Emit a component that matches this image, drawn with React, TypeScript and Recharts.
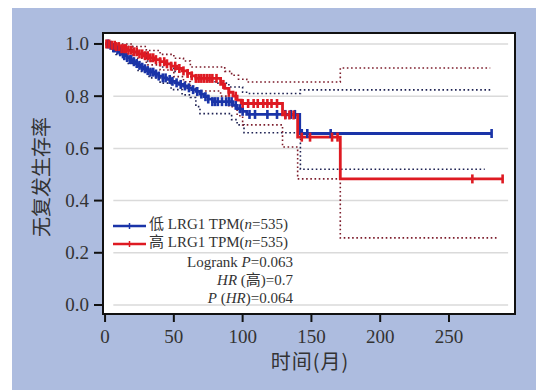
import {
  ComposedChart,
  Line,
  ReferenceArea,
  ReferenceLine,
  Scatter,
  XAxis,
  YAxis,
} from "recharts";

// 低表达组 (low LRG1)
const LOW_T = [0, 3, 5, 8, 10, 12, 14, 16, 18, 20, 22, 24, 26, 28, 30, 33, 36, 39, 42, 45, 48, 51, 54, 57, 60, 63, 66, 69, 72, 75, 78, 93, 96, 100, 103, 141.5, 281];
const LOW_S = [1.0, 0.995, 0.985, 0.977, 0.97, 0.962, 0.955, 0.948, 0.94, 0.932, 0.925, 0.918, 0.911, 0.905, 0.898, 0.892, 0.885, 0.877, 0.87, 0.864, 0.857, 0.851, 0.845, 0.839, 0.832, 0.825, 0.818, 0.808, 0.798, 0.789, 0.779, 0.765, 0.752, 0.742, 0.73, 0.657, 0.657];
const LOW_CENSOR = [2, 4, 6, 7, 9, 11, 13, 14, 16, 18, 19, 21, 23, 25, 27, 29, 31, 33, 35, 37, 39, 42, 44, 47, 49, 52, 55, 58, 61, 64, 67, 70, 73, 75, 78, 80, 82, 85, 88, 90, 92, 95, 98, 100, 105, 109, 118, 125, 131, 135, 138, 143, 147, 164, 281];
const LOW_UP_T = [0, 10, 20, 30, 40, 50, 60, 70, 80, 90, 100, 105, 142, 281];
const LOW_UP_S = [1.0, 0.99, 0.965, 0.935, 0.912, 0.895, 0.875, 0.86, 0.85, 0.835, 0.815, 0.81, 0.824, 0.824];
const LOW_LO_T = [0, 8, 16, 24, 32, 40, 48, 56, 62, 66, 69, 92, 96, 101, 142, 276];
const LOW_LO_S = [1.0, 0.96, 0.925, 0.895, 0.87, 0.85, 0.825, 0.805, 0.795, 0.76, 0.733, 0.71, 0.69, 0.66, 0.52, 0.52];

// 高表达组 (high LRG1)
const HIGH_T = [0, 4, 8, 12, 16, 20, 24, 28, 32, 36, 40, 44, 48, 52, 56, 60, 63, 66, 84, 87, 90, 93, 96, 99, 129, 140, 171, 289];
const HIGH_S = [1.0, 0.995, 0.99, 0.982, 0.976, 0.97, 0.962, 0.955, 0.947, 0.94, 0.932, 0.924, 0.915, 0.906, 0.897, 0.887, 0.878, 0.868, 0.845, 0.83, 0.815, 0.8, 0.785, 0.772, 0.728, 0.643, 0.483, 0.483];
const HIGH_CENSOR = [1, 3, 5, 7, 8, 10, 12, 14, 15, 17, 19, 21, 23, 25, 27, 29, 31, 33, 35, 37, 40, 43, 45, 48, 51, 54, 57, 60, 63, 66, 68, 70, 72, 74, 76, 78, 81, 86, 90, 95, 100, 104, 108, 111, 115, 118, 121, 125, 131, 134, 137, 143, 149, 165, 169, 267, 289];
const HIGH_UP_T = [0, 10, 20, 30, 40, 50, 57, 62, 87, 92, 97, 103, 171, 280];
const HIGH_UP_S = [1.0, 1.0, 0.99, 0.975, 0.96, 0.945, 0.935, 0.912, 0.895, 0.88, 0.865, 0.854, 0.908, 0.908];
const HIGH_LO_T = [0, 10, 20, 30, 40, 50, 57, 62, 66, 84, 90, 96, 100, 129, 140, 171, 285];
const HIGH_LO_S = [1.0, 0.975, 0.945, 0.92, 0.9, 0.875, 0.855, 0.835, 0.82, 0.8, 0.76, 0.725, 0.69, 0.605, 0.483, 0.257, 0.257];

const X_TICKS = [0, 50, 100, 150, 200, 250];
const Y_TICKS = [0, 0.2, 0.4, 0.6, 0.8, 1.0];

const BLUE = "#1a34a8";
const RED = "#de1a22";
const BLUE_CI = "#1d2152";
const RED_CI = "#7c1c2b";

const SERIF = '"Liberation Serif", "Noto Sans CJK SC", serif';
const CJK = '"Noto Sans CJK SC", sans-serif';

const zip = (t: number[], s: number[]) => t.map((x, i) => ({ t: x, v: s[i] }));

// 删失点取所在阶梯的生存率
const stepAt = (t: number[], s: number[], x: number) => {
  let v = s[0];
  for (let i = 0; i < t.length; i++) if (t[i] <= x) v = s[i];
  return v;
};

const censorPts = (c: number[], t: number[], s: number[]) =>
  c.map((x) => ({ t: x, v: stepAt(t, s, x) }));

const tickMark = (color: string) => (p: any) => (
  <line x1={p.cx} x2={p.cx} y1={p.cy - 4.5} y2={p.cy + 4.5} stroke={color} strokeWidth={2.6} />
);

// 坐标刻度文字（衬线体）
const AxisTick = (props: any) => {
  const { x, y, payload, textAnchor, shiftY, fmt } = props;
  return (
    <text
      x={x}
      y={y + shiftY}
      textAnchor={textAnchor}
      style={{ fontFamily: SERIF, fontSize: 19, fill: "#333" }}
    >
      {fmt ? fmt(payload.value) : payload.value}
    </text>
  );
};

function LegendSample({ color }: { color: string }) {
  return (
    <svg width={33} height={8} style={{ verticalAlign: "middle", marginRight: 3 }}>
      <line x1={0} x2={33} y1={4} y2={4} stroke={color} strokeWidth={2.5} />
      <line x1={16.5} x2={16.5} y1={1} y2={7} stroke={color} strokeWidth={1.5} />
    </svg>
  );
}

export default function App() {
  const ci = (d: { t: number; v: number }[], color: string, key: string) => (
    <Line
      key={key}
      data={d}
      dataKey="v"
      type="stepAfter"
      stroke={color}
      strokeWidth={1.6}
      strokeDasharray="1.6 2.6"
      dot={false}
      isAnimationActive={false}
    />
  );

  const row = (top: number, align: "left" | "right", children: any) => (
    <div
      style={{
        position: "absolute",
        left: 113,
        width: 180,
        top: top - 10,
        height: 20,
        lineHeight: "20px",
        textAlign: align,
        whiteSpace: "nowrap",
        fontFamily: SERIF,
        fontSize: 15,
        color: "#333",
      }}
    >
      {children}
    </div>
  );

  return (
    <div style={{ position: "fixed", left: 0, top: 0, width: 536, height: 390, background: "#fff" }}>
      <div style={{ position: "absolute", left: 12, top: 8, right: 0, bottom: 0, background: "#adbcdf" }} />
      <div style={{ position: "absolute", left: 103, top: 33, width: 412, height: 281, background: "#fff" }} />
      <div style={{ position: "absolute", left: 0, top: 0 }}>
        <ComposedChart width={536} height={390} margin={{ top: 33, right: 21, bottom: 46, left: 0 }}>
          <XAxis
            type="number"
            dataKey="t"
            domain={[-1.5, 298]}
            ticks={X_TICKS}
            allowDataOverflow
            axisLine={false}
            tickLine={{ stroke: "#111", strokeWidth: 2 }}
            tickSize={8}
            tickMargin={6}
            height={30}
            tick={<AxisTick shiftY={15} />}
          />
          <YAxis
            type="number"
            dataKey="v"
            domain={[-0.0345, 1.042]}
            ticks={Y_TICKS}
            allowDataOverflow
            axisLine={false}
            tickLine={{ stroke: "#111", strokeWidth: 2 }}
            tickSize={9}
            tickMargin={5}
            width={103}
            tick={<AxisTick shiftY={6.5} fmt={(v: number) => v.toFixed(1)} />}
          />
          {Y_TICKS.map((y) => (
            <ReferenceLine
              key={y}
              segment={[{ x: 6, y }, { x: 293, y }]}
              stroke="#dadada"
              strokeWidth={1.5}
            />
          ))}
          {ci(zip(LOW_UP_T, LOW_UP_S), BLUE_CI, "lu")}
          {ci(zip(LOW_LO_T, LOW_LO_S), BLUE_CI, "ll")}
          {ci(zip(HIGH_UP_T, HIGH_UP_S), RED_CI, "hu")}
          {ci(zip(HIGH_LO_T, HIGH_LO_S), RED_CI, "hl")}
          <Line
            data={zip(LOW_T, LOW_S)}
            dataKey="v"
            type="stepAfter"
            stroke={BLUE}
            strokeWidth={2.8}
            dot={false}
            isAnimationActive={false}
          />
          <Line
            data={zip(HIGH_T, HIGH_S)}
            dataKey="v"
            type="stepAfter"
            stroke={RED}
            strokeWidth={2.8}
            dot={false}
            isAnimationActive={false}
          />
          <Scatter
            data={censorPts(LOW_CENSOR, LOW_T, LOW_S)}
            dataKey="v"
            shape={tickMark(BLUE)}
            isAnimationActive={false}
          />
          <Scatter
            data={censorPts(HIGH_CENSOR, HIGH_T, HIGH_S)}
            dataKey="v"
            shape={tickMark(RED)}
            isAnimationActive={false}
          />
          <ReferenceArea
            x1={-1.5}
            x2={298}
            y1={-0.0345}
            y2={1.042}
            fill="none"
            stroke="#111"
            strokeWidth={2}
            ifOverflow="visible"
          />
        </ComposedChart>
      </div>

      {row(224, "left", <><LegendSample color={BLUE} />低 LRG1 TPM(<i>n</i>=535)</>)}
      {row(242, "left", <><LegendSample color={RED} />高 LRG1 TPM(<i>n</i>=535)</>)}
      {row(262, "right", <>Logrank <i>P</i>=0.063</>)}
      {row(280, "right", <><i>HR</i> (高)=0.7</>)}
      {row(298, "right", <><i>P</i> (<i>HR</i>)=0.064</>)}

      <div
        style={{
          position: "absolute",
          left: 40,
          top: 177,
          transform: "translate(-50%, -50%) rotate(-90deg)",
          whiteSpace: "nowrap",
          fontFamily: CJK,
          fontSize: 20,
          color: "#333",
        }}
      >
        无复发生存率
      </div>
      <div
        style={{
          position: "absolute",
          left: 310,
          top: 360,
          transform: "translate(-50%, -50%)",
          whiteSpace: "nowrap",
          fontFamily: CJK,
          fontSize: 20,
          letterSpacing: 1,
          color: "#333",
        }}
      >
        时间(月)
      </div>
    </div>
  );
}
